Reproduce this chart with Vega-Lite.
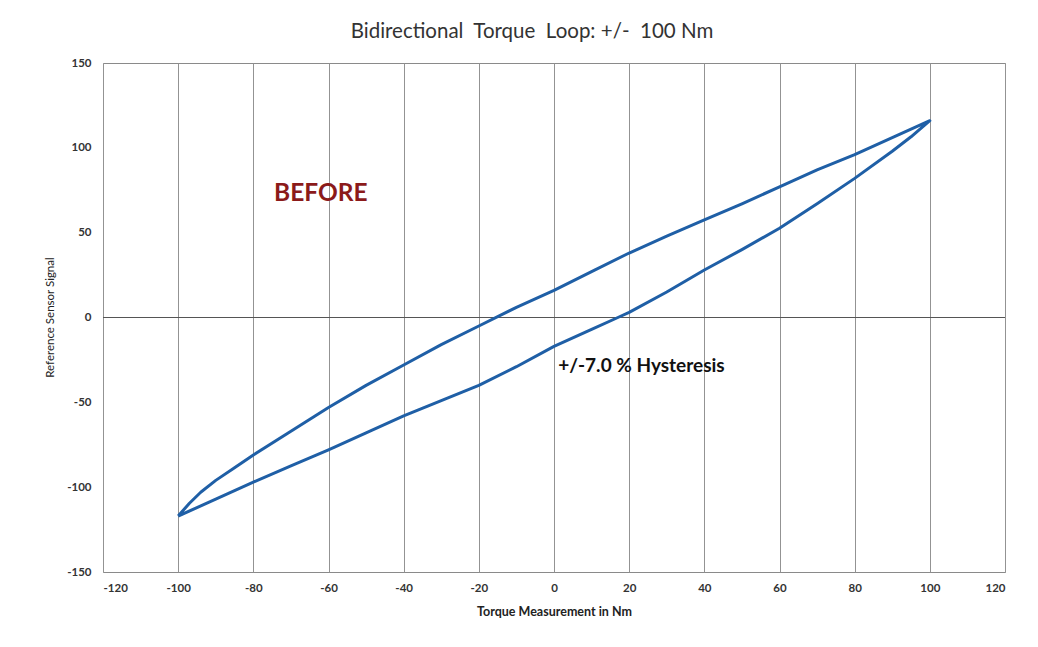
{
  "$schema": "https://vega.github.io/schema/vega-lite/v6.json",
  "width": 902,
  "height": 509,
  "autosize": {"type": "none"},
  "padding": {"left": 103, "top": 63, "right": 33, "bottom": 75},
  "background": "white",
  "title": {
    "text": "Bidirectional\u00a0 Torque\u00a0 Loop: +/-\u00a0 100 Nm",
    "font": "Lato",
    "fontSize": 20.5,
    "fontWeight": "normal",
    "color": "#333333",
    "offset": 15,
    "anchor": "middle",
    "dx": -22
  },
  "config": {
    "view": {"stroke": "#8a8a8a", "strokeWidth": 1},
    "axis": {
      "labelFont": "Lato",
      "titleFont": "Lato",
      "labelColor": "#333333",
      "titleColor": "#222222",
      "gridColor": "#939393",
      "gridOpacity": 1,
      "gridWidth": 1,
      "domain": false,
      "ticks": false,
      "labelExpr": "replace(datum.label, '\u2212', '-')"
    }
  },
  "data": {
    "values": [
      {"i": 1, "branch": "up", "x": -100, "y": -117},
      {"i": 2, "branch": "up", "x": -95, "y": -112},
      {"i": 3, "branch": "up", "x": -90, "y": -107},
      {"i": 4, "branch": "up", "x": -85, "y": -102},
      {"i": 5, "branch": "up", "x": -80, "y": -97},
      {"i": 6, "branch": "up", "x": -70, "y": -87.5},
      {"i": 7, "branch": "up", "x": -60, "y": -78},
      {"i": 8, "branch": "up", "x": -50, "y": -68},
      {"i": 9, "branch": "up", "x": -40, "y": -58},
      {"i": 10, "branch": "up", "x": -30, "y": -49},
      {"i": 11, "branch": "up", "x": -20, "y": -40},
      {"i": 12, "branch": "up", "x": -10, "y": -29},
      {"i": 13, "branch": "up", "x": 0, "y": -17},
      {"i": 14, "branch": "up", "x": 10, "y": -7},
      {"i": 15, "branch": "up", "x": 17, "y": 0},
      {"i": 16, "branch": "up", "x": 20, "y": 3},
      {"i": 17, "branch": "up", "x": 30, "y": 15},
      {"i": 18, "branch": "up", "x": 40, "y": 28},
      {"i": 19, "branch": "up", "x": 50, "y": 40},
      {"i": 20, "branch": "up", "x": 60, "y": 52.6},
      {"i": 21, "branch": "up", "x": 70, "y": 67},
      {"i": 22, "branch": "up", "x": 80, "y": 82},
      {"i": 23, "branch": "up", "x": 90, "y": 98},
      {"i": 24, "branch": "up", "x": 95, "y": 106.5},
      {"i": 25, "branch": "up", "x": 100, "y": 116},
      {"i": 26, "branch": "down", "x": 95, "y": 111},
      {"i": 27, "branch": "down", "x": 90, "y": 106},
      {"i": 28, "branch": "down", "x": 80, "y": 96},
      {"i": 29, "branch": "down", "x": 70, "y": 87},
      {"i": 30, "branch": "down", "x": 60, "y": 77},
      {"i": 31, "branch": "down", "x": 50, "y": 67},
      {"i": 32, "branch": "down", "x": 40, "y": 57.5},
      {"i": 33, "branch": "down", "x": 30, "y": 48},
      {"i": 34, "branch": "down", "x": 20, "y": 38},
      {"i": 35, "branch": "down", "x": 10, "y": 27},
      {"i": 36, "branch": "down", "x": 0, "y": 16},
      {"i": 37, "branch": "down", "x": -10, "y": 6},
      {"i": 38, "branch": "down", "x": -20, "y": -5},
      {"i": 39, "branch": "down", "x": -30, "y": -16},
      {"i": 40, "branch": "down", "x": -40, "y": -28},
      {"i": 41, "branch": "down", "x": -50, "y": -40},
      {"i": 42, "branch": "down", "x": -60, "y": -53},
      {"i": 43, "branch": "down", "x": -70, "y": -67},
      {"i": 44, "branch": "down", "x": -80, "y": -81},
      {"i": 45, "branch": "down", "x": -85, "y": -88.5},
      {"i": 46, "branch": "down", "x": -90, "y": -96},
      {"i": 47, "branch": "down", "x": -94, "y": -103},
      {"i": 48, "branch": "down", "x": -97, "y": -109.5},
      {"i": 49, "branch": "down", "x": -99, "y": -114.5},
      {"i": 50, "branch": "down", "x": -100, "y": -117}
    ]
  },
  "layer": [
    {
      "mark": {"type": "rule", "color": "#555555", "strokeWidth": 1},
      "encoding": {"y": {"datum": 0, "type": "quantitative"}}
    },
    {
      "mark": {"type": "line", "color": "#1f5fa6", "strokeWidth": 3, "interpolate": "linear", "strokeJoin": "round"},
      "encoding": {
        "x": {
          "field": "x",
          "type": "quantitative",
          "scale": {"domain": [-120, 120], "nice": false, "zero": false},
          "axis": {
            "values": [-120, -100, -80, -60, -40, -20, 0, 20, 40, 60, 80, 100, 120],
            "title": "Torque Measurement in Nm",
            "titleFontSize": 12.5,
            "titleFontWeight": "bold",
            "titlePadding": 12,
            "labelFontSize": 11.5,
            "labelFontWeight": "bold",
            "labelPadding": 10
          }
        },
        "y": {
          "field": "y",
          "type": "quantitative",
          "scale": {"domain": [-150, 150], "nice": false, "zero": false},
          "axis": {
            "values": [-150, -100, -50, 0, 50, 100, 150],
            "title": "Reference Sensor Signal",
            "titleFontSize": 11.5,
            "titleFontWeight": "normal",
            "titleX": -53,
            "titleY": 254,
            "titleAngle": -90,
            "titleAlign": "center",
            "titleBaseline": "middle",
            "labelFontSize": 11.5,
            "labelFontWeight": "bold",
            "labelPadding": 12
          }
        },
        "order": {"field": "i", "type": "quantitative"}
      }
    },
    {
      "data": {"values": [{"x": -74.5, "y": 72.8, "label": "BEFORE"}]},
      "mark": {"type": "text", "align": "left", "baseline": "middle", "font": "Lato", "fontSize": 24.5, "fontWeight": "bold", "color": "#8b1a1a"},
      "encoding": {
        "x": {"field": "x", "type": "quantitative"},
        "y": {"field": "y", "type": "quantitative"},
        "text": {"field": "label"}
      }
    },
    {
      "data": {"values": [{"x": 1.1, "y": -28.5, "label": "+/-7.0 % Hysteresis"}]},
      "mark": {"type": "text", "align": "left", "baseline": "middle", "font": "Lato", "fontSize": 19, "fontWeight": "bold", "color": "#111111"},
      "encoding": {
        "x": {"field": "x", "type": "quantitative"},
        "y": {"field": "y", "type": "quantitative"},
        "text": {"field": "label"}
      }
    }
  ]
}
